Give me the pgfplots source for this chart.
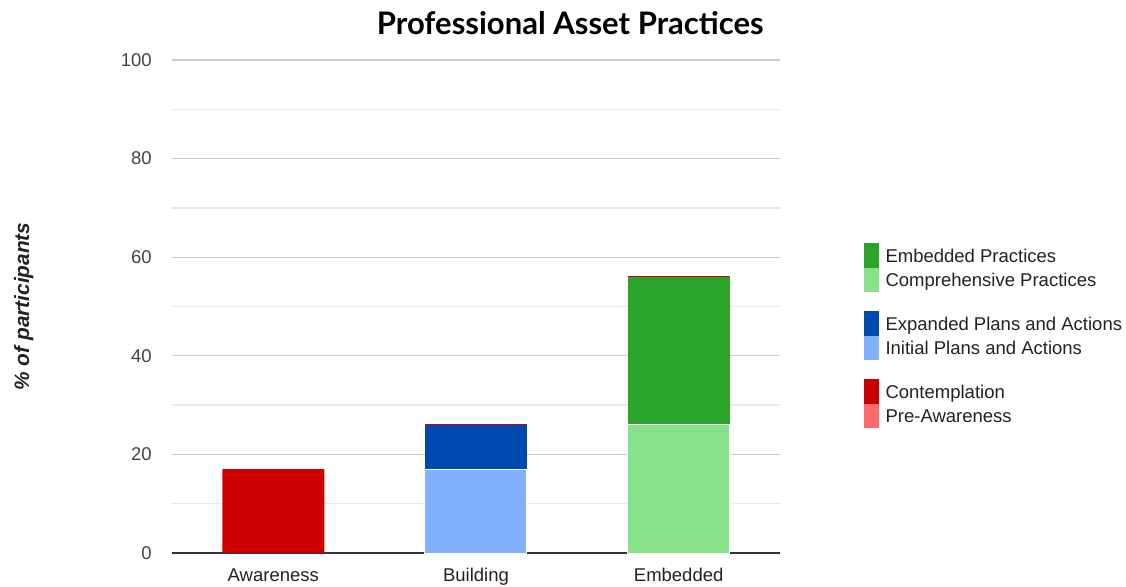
\documentclass[border=0pt]{standalone}
\usepackage{fontspec}
\setmainfont{Liberation Sans}
\newfontfamily\titlefont{Lato}
\usepackage{graphicx}
\usepackage{pgfplots}
\pgfplotsset{compat=1.18}
\definecolor{cRed}{HTML}{CC0000}
\definecolor{cPink}{HTML}{FF6B6B}
\definecolor{cDBlue}{HTML}{0049AF}
\definecolor{cLBlue}{HTML}{80B0FF}
\definecolor{cDGreen}{HTML}{2BA42B}
\definecolor{cLGreen}{HTML}{88E088}
\definecolor{gridmaj}{HTML}{CCCCCC}
\definecolor{gridmin}{HTML}{EBEBEB}
\definecolor{axisdark}{HTML}{333333}
\definecolor{ticktext}{HTML}{444444}
\definecolor{labtext}{HTML}{222222}
\pgfplotsset{
  sq/.style={legend image code/.code={\fill[#1, draw=none] (0pt,-7.35pt) rectangle (9pt,7.35pt);}},
  spacer/.style={legend image code/.code={\path[draw=none, fill=none] (0pt,-5.7pt) rectangle (9pt,5.7pt);}},
}
\begin{document}
\begin{tikzpicture}
\begin{axis}[
  scale only axis, width=364.8pt, height=295.8pt,
  ybar stacked, bar width=61.2pt,
  xmin=-0.5, xmax=2.5, ymin=0, ymax=100,
  xtick={0,1,2}, xticklabels={Awareness,Building,Embedded},
  ytick={0,20,40,60,80,100}, minor ytick={10,30,50,70,90},
  ymajorgrids, yminorgrids,
  major grid style={draw=gridmaj, line width=0.8pt},
  minor grid style={draw=gridmin, line width=0.8pt},
  axis x line*=bottom, axis y line*=left,
  y axis line style={draw=none},
  x axis line style={draw=none},
  major tick length=0pt, minor tick length=0pt,
  /pgf/number format/assume math mode=true,
  tick label style={font=\fontsize{11.1}{13}\selectfont},
  yticklabel style={anchor=east, inner sep=0pt, xshift=-12pt, text=ticktext},
  xticklabel style={anchor=base, inner sep=0pt, yshift=-16.8pt, text=labtext},
  ylabel={\% of participants},
  ylabel style={at={(axis description cs:-0.244,0.5)}, anchor=center, font=\fontsize{12.5}{14}\selectfont\bfseries\itshape, text=labtext},
  title={\resizebox{232pt}{!}{\titlefont\bfseries Professional Asset Practices}},
  title style={at={(axis description cs:0.655,1.054)}, anchor=center, inner sep=0pt},
  legend style={at={(axis description cs:1.138,0.6288)}, anchor=north west, draw=none, fill=none,
    inner sep=0pt, outer sep=0pt, row sep=0pt, column sep=4.0pt,
    nodes={inner sep=0pt, text height=11.5pt, text depth=3.2pt, font=\fontsize{11.1}{13}\selectfont, text=labtext}},
  legend cell align=left,
]
\addplot[forget plot, fill=cPink, draw=none] coordinates {(0,0) (1,0) (2,0)};
\addplot[forget plot, fill=cLBlue, draw=white, line width=0.6pt] coordinates {(0,0) (1,17) (2,0)};
\addplot[forget plot, fill=cLGreen, draw=white, line width=0.6pt] coordinates {(0,0) (1,0) (2,26)};
\addplot[forget plot, fill=cDBlue, draw=none] coordinates {(0,0) (1,9) (2,0)};
\addplot[forget plot, fill=cDGreen, draw=none] coordinates {(0,0) (1,0) (2,30)};
\addplot[forget plot, fill=cRed, draw=none] coordinates {(0,17) (1,0.15) (2,0.15)};
\draw[axisdark, line width=1.3pt] (rel axis cs:0,0) -- (rel axis cs:1,0);
\addlegendimage{sq=cDGreen}\addlegendentry{Embedded Practices}
\addlegendimage{sq=cLGreen}\addlegendentry{Comprehensive Practices}
\addlegendimage{spacer}\addlegendentry[text height=7pt, text depth=4.4pt]{\strut}
\addlegendimage{sq=cDBlue}\addlegendentry{Expanded Plans and Actions}
\addlegendimage{sq=cLBlue}\addlegendentry{Initial Plans and Actions}
\addlegendimage{spacer}\addlegendentry[text height=7pt, text depth=4.4pt]{\strut}
\addlegendimage{sq=cRed}\addlegendentry{Contemplation}
\addlegendimage{sq=cPink}\addlegendentry{Pre-Awareness}
\end{axis}
\pgfresetboundingbox
\path[use as bounding box] (-103.2pt,-19.8pt) rectangle (572.4pt,331.8pt);
\end{tikzpicture}
\end{document}
